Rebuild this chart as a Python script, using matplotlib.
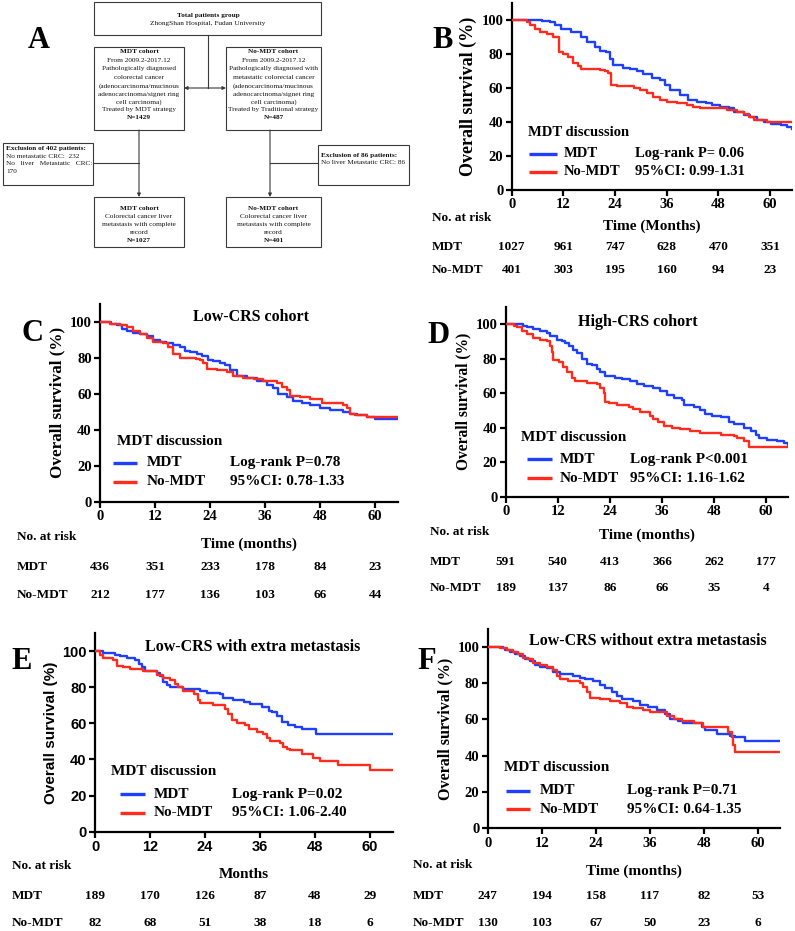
import matplotlib
matplotlib.use("Agg")
import matplotlib.pyplot as plt
from matplotlib.patches import Rectangle
from matplotlib.transforms import blended_transform_factory

SERIF = "Liberation Serif"
SANS = "Liberation Sans"
BLUE = "#1f3fff"
RED = "#ff2b1c"

# ---- KM curves (months, % surviving) ----
b_mdt_t = [0, 7, 9, 10, 11.5, 13.7, 16, 17.5, 19.4, 20.5, 22, 22.9, 23.6, 25.9, 27.5, 29, 30.5, 32.5, 34.5, 35.6,
           36.8, 39, 41, 43, 45, 46.5, 48.4, 50.4, 51.5, 53.9, 55.4, 57, 58.6, 60.1, 62.5, 64, 65]
b_mdt_s = [100, 99.5, 99, 97, 95, 93, 90, 87, 84, 82, 81, 77, 73.5, 72, 71, 70, 68, 66, 65, 62,
           59, 56, 53, 52, 51, 50, 49, 48, 46, 44, 43, 41, 40, 39, 38, 37, 36]
b_no_t = [0, 3.5, 4.3, 5.4, 6.6, 8.1, 9.7, 10.9, 11, 12, 13, 14.3, 15.5, 16.2, 20.5, 21.6, 22.4, 23, 24.4, 28.3,
          29.8, 31.3, 32.8, 34.4, 36, 38.3, 40.6, 42.2, 43.8, 50, 52.3, 53.9, 55, 56.2, 59.3, 65]
b_no_s = [100, 99, 97, 95, 93, 92, 90, 88, 81, 80, 78, 75, 73, 71, 70.5, 70, 69, 62, 61, 60,
          59, 57, 55, 53, 52, 51, 50, 49, 48, 47, 46, 45, 43, 41, 40, 40]

c_mdt_t = [0, 2.5, 3.6, 4.7, 5.8, 7.3, 8.7, 10.2, 11.6, 13.1, 14.5, 16, 17.5, 18.5, 19.6, 21.1, 22.2, 23.6, 24.7,
           26.2, 27.3, 28.4, 29.8, 32, 34.2, 36.4, 37.8, 38.9, 40.7, 42.2, 44, 45.8, 48, 50.2, 53, 54.5, 56,
           58.2, 60, 65]
c_mdt_s = [100, 99, 98, 96, 95, 94, 93, 92, 90, 89, 88, 87, 86, 84, 83, 82, 81, 79, 78,
           77, 76, 73, 70, 69, 67, 65, 63, 60, 58, 56, 55, 54, 52, 51, 50, 49, 48,
           47, 46, 46]
c_no_t = [0, 2.2, 4.4, 5.8, 7.3, 8.7, 10.2, 11.6, 13.8, 14.9, 16, 17.5, 21, 21.8, 22.5, 23.3, 25.5, 27.6, 29.1,
          31.3, 33.5, 35.6, 38.5, 39.6, 40.7, 41.5, 43.6, 45.8, 48.4, 53.1, 53.8, 54.5, 55.6, 58.2, 65]
c_no_s = [100, 99, 98, 97, 95, 93, 91, 89, 88, 86, 82, 80, 79.5, 79, 77, 74, 73, 72, 70,
          69, 68, 67, 66, 64, 62, 59, 58, 57, 55, 54, 52, 49, 48, 47, 47]

d_mdt_t = [0, 4, 4.8, 6.4, 7.9, 9.5, 10.2, 11.8, 12.9, 13.7, 14.5, 15.6, 16.4, 17.5, 18.7, 19.8, 21, 21.8, 22.9,
           25.2, 26.8, 28.7, 30.2, 31.8, 34, 35.6, 37.2, 38.7, 40.6, 41, 43.3, 44.8, 46, 47.6, 49.5, 51.4, 52.6,
           54.9, 56.5, 57.6, 58.4, 60.3, 62.6, 64.1, 65]
d_mdt_s = [100, 99, 98, 97, 96, 95, 93, 91, 90, 89, 87, 85, 83, 80, 77, 76, 74, 72, 70,
           69, 68, 67, 65, 64, 63, 61, 59, 57, 56, 53, 52, 50, 48, 47, 46, 43, 42,
           40, 38, 36, 34, 33, 32, 31, 30]
d_no_t = [0, 1.8, 2.5, 3.7, 4.8, 6.4, 7.9, 9.5, 10.2, 10.6, 11, 12.2, 13.3, 14.1, 15.2, 16, 18.7, 21, 21.8, 22.6,
          22.9, 23.7, 25.6, 28.3, 29.4, 31, 33.3, 34, 35.2, 36.4, 38.3, 40.2, 42.5, 44.8, 49.5, 52.6, 53.4,
          54.9, 56, 65]
d_no_s = [100, 99, 98, 96, 94, 92, 91, 90, 87, 84, 79, 78, 75, 72, 69, 67, 66, 65, 63, 60,
          55, 54, 53, 52, 51, 49, 47, 45, 43, 41, 40, 39, 38, 37, 36, 35, 34,
          32, 29, 29]

e_mdt_t = [0, 1.8, 4.4, 5.5, 6.9, 8.7, 9.5, 10.2, 10.9, 13.5, 14.2, 14.9, 15.6, 16.4, 19.3, 22.9, 24.4, 27.3, 28,
           30.2, 32.4, 33.8, 36.5, 38, 38.5, 39.6, 40.7, 42.2, 43.6, 45.1, 48.2, 65]
e_mdt_s = [100, 99, 98, 97, 96, 95, 93, 91, 89, 88, 86, 83, 81, 80, 79, 78, 77, 76, 74,
           73, 72, 70.5, 69, 67, 66, 64, 61, 59, 58, 57, 54, 54]
e_no_t = [0, 1.1, 1.8, 4, 4.7, 6.2, 7.6, 10.5, 13.5, 14.9, 16.4, 17.5, 18.2, 19.3, 21.5, 22.5, 22.9, 25.8, 28.4,
          29.1, 29.8, 30.9, 32.7, 33.5, 35.3, 36.7, 37.5, 38.2, 40.4, 41.1, 41.8, 42.5, 45.1, 47.6, 49.1, 53.1,
          60, 65]
e_no_s = [100, 98, 96, 95, 92, 91, 90, 89, 87, 85, 84, 82, 80, 78, 76, 73, 71, 70, 68,
          65, 62, 60, 59, 57, 55, 54, 52, 50, 49, 47, 46, 45, 43, 41, 39, 37,
          34, 34]

f_mdt_t = [0, 3.5, 3.9, 5, 6.1, 7.2, 8.3, 9.4, 10.5, 11.6, 13.1, 14.6, 16.1, 19, 20.5, 21.6, 23.5, 25, 26.1,
           27.6, 28.7, 29.8, 32.4, 33.9, 35.7, 37.6, 39.4, 40.5, 42.4, 43.5, 47.6, 48.3, 50.9, 53.9, 55, 57.2, 65]
f_mdt_s = [100, 99, 98, 97, 96, 95, 93, 92, 90, 89, 88, 86, 85, 84, 83, 82, 81, 79, 77,
           75, 73, 71, 70, 68, 67, 65, 63, 60, 59, 58, 56, 54, 52, 51, 50, 48, 48]
f_no_t = [0, 2.7, 4.2, 5.7, 6.8, 7.9, 9, 10.1, 11.6, 13.1, 14.6, 15.3, 16.1, 17.9, 20.5, 21.2, 22, 22.7, 25,
          27.2, 29.4, 30.9, 32.4, 34.6, 36.1, 39.8, 41.3, 43.1, 45.8, 47.9, 53.5, 54.2, 54.6, 55, 65]
f_no_s = [100, 99, 98, 97, 96, 94, 93, 91, 90, 89, 87, 84, 82, 81, 80, 78, 75, 72, 71,
          70, 69, 67, 66, 65, 64, 62, 60, 59, 58, 56, 53, 50, 46, 42, 42]

risk_times = [0, 12, 24, 36, 48, 60]
b_risk_mdt = [1027, 961, 747, 628, 470, 351]
b_risk_no = [401, 303, 195, 160, 94, 23]
c_risk_mdt = [436, 351, 233, 178, 84, 23]
c_risk_no = [212, 177, 136, 103, 66, 44]
d_risk_mdt = [591, 540, 413, 366, 262, 177]
d_risk_no = [189, 137, 86, 66, 35, 4]
e_risk_mdt = [189, 170, 126, 87, 48, 29]
e_risk_no = [82, 68, 51, 38, 18, 6]
f_risk_mdt = [247, 194, 158, 117, 82, 53]
f_risk_no = [130, 103, 67, 50, 23, 6]

W, H = 795, 931
fig = plt.figure(figsize=(W / 100, H / 100), dpi=100)


def add_ax(x0, x65, y0, y110):
    # pixel positions of (t=0, t=65) and (S=0, S=110) in the image
    return fig.add_axes([x0 / W, 1 - y0 / H, (x65 - x0) / W, (y0 - y110) / H])


def km_panel(ax, mdt, no, risk_mdt, risk_no, letter, letter_xy, stats, lay, title=None, title_xy=None,
             xlabel="Time (months)", tickfont=SERIF, fs=11, yfs=12):
    ax.step(mdt[0], mdt[1], where="post", color=BLUE, lw=1.7, zorder=3)
    ax.step(no[0], no[1], where="post", color=RED, lw=1.7, zorder=4)
    ax.set_xlim(0, 65)
    ax.set_ylim(0, 110)
    ax.set_xticks(risk_times)
    ax.set_yticks([0, 20, 40, 60, 80, 100])
    for s in ["top", "right"]:
        ax.spines[s].set_visible(False)
    for s in ["left", "bottom"]:
        ax.spines[s].set_linewidth(1.6)
    ax.tick_params(width=1.6, length=4, pad=2, labelsize=10.5)
    for lab in ax.get_xticklabels() + ax.get_yticklabels():
        lab.set_fontfamily(tickfont)
        lab.set_fontweight("bold")
    ax.set_ylabel("Overall survival (%)", fontsize=yfs, fontweight="bold", family=tickfont, labelpad=3)
    ax.text(letter_xy[0], letter_xy[1], letter, transform=ax.transAxes, fontsize=22, fontweight="bold",
            family=SERIF, ha="center", va="center")
    if title:
        ax.text(title_xy[0], title_xy[1], title, transform=ax.transAxes, fontsize=11.5, fontweight="bold",
                family=SERIF, ha="center", va="center")
    # legend block
    tx, ty, lx0, lx1, labx, y1, y2, sx = lay
    tf = dict(transform=ax.transAxes, fontsize=fs, fontweight="bold", family=SERIF, va="center")
    ax.text(tx, ty, "MDT discussion", ha="left", **tf)
    ax.plot([lx0, lx1], [y1, y1], color=BLUE, lw=2.4, transform=ax.transAxes, solid_capstyle="butt")
    ax.plot([lx0, lx1], [y2, y2], color=RED, lw=2.4, transform=ax.transAxes, solid_capstyle="butt")
    ax.text(labx, y1, "MDT", ha="left", **tf)
    ax.text(labx, y2, "No-MDT", ha="left", **tf)
    ax.text(sx, y1, stats[0], ha="left", **tf)
    ax.text(sx, y2, stats[1], ha="left", **tf)
    # number at risk table
    rx, ry_head, ry_xl, ry1, ry2 = lay_risk[letter]
    rf = dict(fontsize=9.5, fontweight="bold", family=SERIF, va="center")
    ax.text(rx, ry_head, "No. at risk", transform=ax.transAxes, ha="left", **rf)
    ax.text(rx, ry1, "MDT", transform=ax.transAxes, ha="left", **rf)
    ax.text(rx, ry2, "No-MDT", transform=ax.transAxes, ha="left", **rf)
    ax.text(0.5, ry_xl, xlabel, transform=ax.transAxes, ha="center", va="center", fontsize=11,
            fontweight="bold", family=SERIF)
    tr = blended_transform_factory(ax.transData, ax.transAxes)
    for t, a, b in zip(risk_times, risk_mdt, risk_no):
        ax.text(t, ry1, str(a), transform=tr, ha="center", **rf)
        ax.text(t, ry2, str(b), transform=tr, ha="center", **rf)


lay_risk = {
    "B": (-0.286, -0.15, -0.193, -0.303, -0.428),
    "C": (-0.279, -0.18, -0.214, -0.332, -0.471),
    "D": (-0.268, -0.184, -0.202, -0.346, -0.48),
    "E": (-0.278, -0.173, -0.213, -0.324, -0.461),
    "F": (-0.256, -0.183, -0.213, -0.337, -0.475),
}

axB = add_ax(511.7, 791.7, 190, 3)
km_panel(axB, (b_mdt_t, b_mdt_s), (b_no_t, b_no_s), b_risk_mdt, b_risk_no, "B", (-0.248, 0.80),
         ("Log-rank P= 0.06", "95%CI: 0.99-1.31"), (0.06, 0.307, 0.06, 0.16, 0.185, 0.193, 0.098, 0.44),
         xlabel="Time (Months)", fs=10.5, yfs=13)

axC = add_ax(100, 398, 501.7, 303.7)
km_panel(axC, (c_mdt_t, c_mdt_s), (c_no_t, c_no_s), c_risk_mdt, c_risk_no, "C", (-0.227, 0.85),
         ("Log-rank P=0.78", "95%CI: 0.78-1.33"), (0.058, 0.303, 0.045, 0.123, 0.156, 0.197, 0.101, 0.436),
         title="Low-CRS cohort", title_xy=(0.508, 0.934), yfs=12.3)

axD = add_ax(505.7, 787.8, 496.7, 306.7)
km_panel(axD, (d_mdt_t, d_mdt_s), (d_no_t, d_no_s), d_risk_mdt, d_risk_no, "D", (-0.239, 0.851),
         ("Log-rank P<0.001", "95%CI: 1.16-1.62"), (0.053, 0.31, 0.074, 0.163, 0.19, 0.196, 0.096, 0.439),
         title="High-CRS cohort", title_xy=(0.47, 0.917), yfs=11.2)

axE = add_ax(95, 393, 831.7, 633)
km_panel(axE, (e_mdt_t, e_mdt_s), (e_no_t, e_no_s), e_risk_mdt, e_risk_no, "E", (-0.245, 0.856),
         ("Log-rank P=0.02", "95%CI: 1.06-2.40"), (0.053, 0.305, 0.084, 0.167, 0.198, 0.188, 0.096, 0.459),
         title="Low-CRS with extra metastasis", title_xy=(0.529, 0.931), xlabel="Months", tickfont=SANS,
         yfs=11)

axF = add_ax(487.7, 780.2, 828.3, 628.5)
km_panel(axF, (f_mdt_t, f_mdt_s), (f_no_t, f_no_s), f_risk_mdt, f_risk_no, "F", (-0.208, 0.833),
         ("Log-rank P=0.71", "95%CI: 0.64-1.35"), (0.056, 0.305, 0.0625, 0.144, 0.178, 0.187, 0.095, 0.477),
         title="Low-CRS without extra metastasis", title_xy=(0.548, 0.935), yfs=11.6)

# ---- panel A: flow chart, drawn in pixel units ----
axA = fig.add_axes([0, 1 - 250 / H, 412 / W, 250 / H], zorder=-1)
axA.set_xlim(0, 412)
axA.set_ylim(250, 0)
axA.axis("off")
EC = "#3a3a3a"


def box(x0, y0, x1, y1):
    axA.add_patch(Rectangle((x0, y0), x1 - x0, y1 - y0, fill=False, ec=EC, lw=0.8))


def lines(xc, ys, txt, ha="center"):
    for y, (s, bold) in zip(ys, txt):
        axA.text(xc, y, s, ha=ha, va="center", fontsize=5.2, family=SERIF,
                 fontweight="bold" if bold else "normal", color="#111")


def arrow(x0, y0, x1, y1):
    axA.annotate("", xy=(x1, y1), xytext=(x0, y0),
                 arrowprops=dict(arrowstyle="-|>", lw=0.8, color=EC, mutation_scale=5, shrinkA=0, shrinkB=0))


axA.text(39, 40, "A", fontsize=22, fontweight="bold", family=SERIF, ha="center", va="center")

box(94, 2, 321, 35)
lines(208, [15, 23], [("Total patients group", True), ("ZhongShan Hospital, Fudan University", False)])
axA.plot([208, 208], [35, 88], color=EC, lw=0.8)
arrow(208, 88, 184, 88)
arrow(208, 88, 226, 88)

cohort_y = [51.7, 60, 68.3, 77.3, 86, 94.3, 101.7, 109.3, 117.3]
box(94, 47, 184, 130)
lines(139, cohort_y, [("MDT cohort", True), ("From 2009.2-2017.12", False), ("Pathologically diagnosed", False),
                      ("colorectal cancer", False), ("(adenocarcinoma/mucinous", False),
                      ("adenocarcinoma/signet ring", False), ("cell carcinoma)", False),
                      ("Treated by MDT strategy", False), ("N=1429", True)])
box(226, 47, 321, 130)
lines(273.5, cohort_y, [("No-MDT cohort", True), ("From 2009.2-2017.12", False),
                        ("Pathologically diagnosed with", False), ("metastatic colorectal cancer", False),
                        ("(adenocarcinoma/mucinous", False), ("adenocarcinoma/signet ring", False),
                        ("cell carcinoma)", False), ("Treated by Traditional strategy", False), ("N=487", True)])

arrow(139, 130, 139, 197)
arrow(270, 130, 270, 197)
axA.plot([93, 139], [163, 163], color=EC, lw=0.8)
axA.plot([270, 318], [163, 163], color=EC, lw=0.8)

box(3, 143, 93, 185)
lines(6, [148.7, 156, 163, 171], [("Exclusion of 402 patients:", True), ("No metastatic CRC:  232", False),
                                  ("No   liver   Metastatic   CRC:", False), ("170", False)], ha="left")
box(318, 145, 409, 185)
lines(321, [156, 162.7], [("Exclusion of 86 patients:", True), ("No liver Metastatic CRC: 86", False)], ha="left")

end_y = [208.3, 216, 224, 232.3, 240]
box(94, 197, 184, 247)
lines(139, end_y, [("MDT cohort", True), ("Colorectal cancer liver", False), ("metastasis with complete", False),
                   ("record", False), ("N=1027", True)])
box(226, 197, 321, 247)
lines(273.5, end_y, [("No-MDT cohort", True), ("Colorectal cancer liver", False),
                     ("metastasis with complete", False), ("record", False), ("N=401", True)])

fig.savefig("out.png", dpi=100)
